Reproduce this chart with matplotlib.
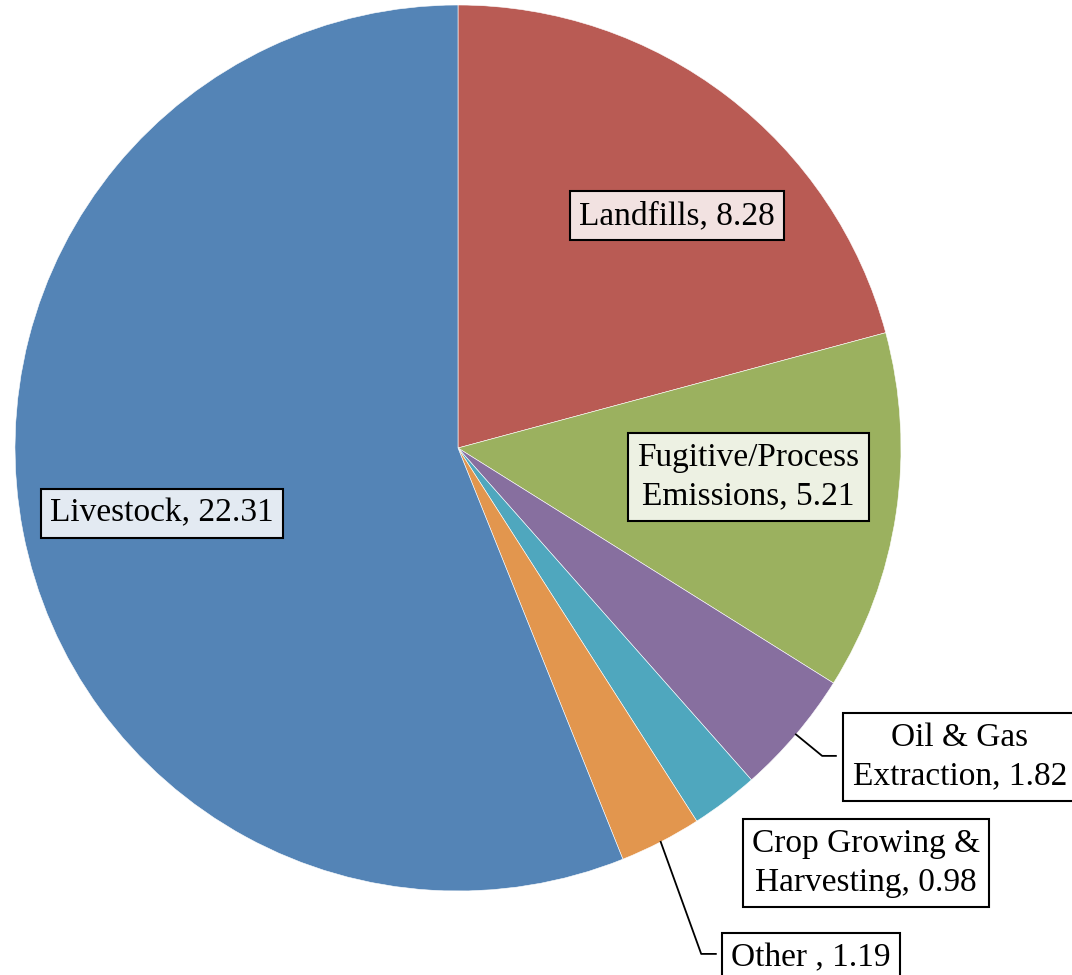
import numpy as np
import matplotlib.pyplot as plt

plt.rcParams['font.family'] = ['Liberation Serif', 'DejaVu Serif']

labels = ['Landfills', 'Fugitive/Process\nEmissions', 'Oil & Gas\nExtraction',
          'Crop Growing &\nHarvesting', 'Other ', 'Livestock']
values = [8.28, 5.21, 1.82, 0.98, 1.19, 22.31]
colors = ['#B95B54', '#9BB15F', '#876F9F', '#4FA7BE', '#E2964E', '#5484B6']
box_fc = ['#F2E2E1', '#EDF1E3', 'white', 'white', 'white', '#E3EAF2']
# label positions (in pie radius units) and whether a leader line is drawn
label_pos = [(0.494, 0.524), (0.656, -0.065), (1.133, -0.697),
             (0.921, -0.937), (0.797, -1.151), (-0.668, -0.147)]
leader = [None, None, (0.822, -0.695, 0.853), None, (0.549, -1.142, 0.582), None]

fig = plt.figure(figsize=(10.72, 9.75), dpi=100)
ax = fig.add_axes([0, 0, 1, 1])
wedges, _ = ax.pie(values, colors=colors, startangle=90, counterclock=False,
                   radius=1, wedgeprops=dict(edgecolor='white', linewidth=0.4))
ax.set_xlim(-458/443, (1072-458)/443)
ax.set_ylim(-(975-448)/443, 448/443)
ax.set_aspect('auto')
ax.axis('off')

for i, w in enumerate(wedges):
    txt = '{0}, {1:.2f}'.format(labels[i], values[i])
    x, y = label_pos[i]
    ax.text(x, y, txt, ha='center', va='center', multialignment='center',
            fontsize=24, color='black', linespacing=1.35,
            bbox=dict(boxstyle='square,pad=0.28', fc=box_fc[i], ec='black', lw=1.5))
    if leader[i] is not None:
        th = np.deg2rad((w.theta1 + w.theta2) / 2)
        ex, ey, tx = leader[i]
        ax.plot([np.cos(th), ex, tx], [np.sin(th), ey, ey], color='black', lw=1.3)

plt.savefig('out.png', dpi=100)
